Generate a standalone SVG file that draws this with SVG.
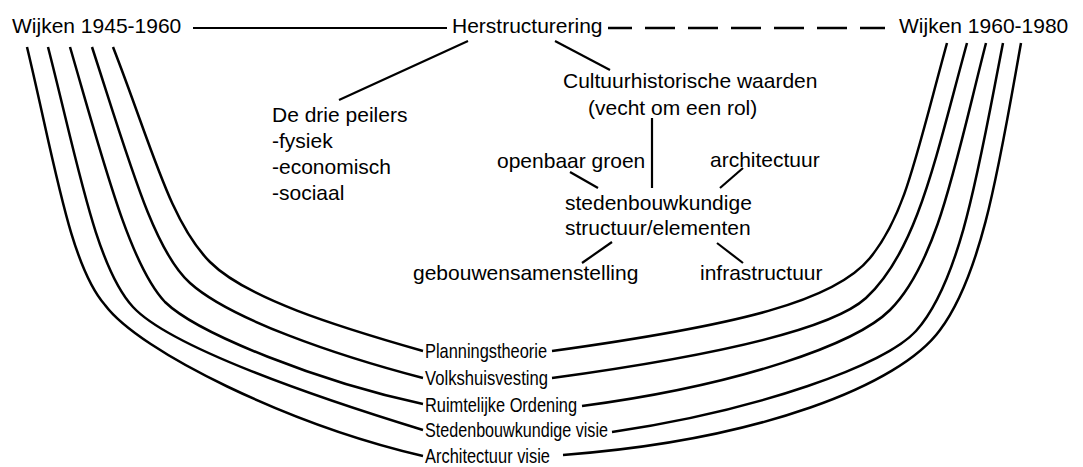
<svg xmlns="http://www.w3.org/2000/svg" width="1083" height="467" viewBox="0 0 1083 467">
<style>
.t{font-family:"Liberation Sans",Arial,sans-serif;font-size:21px;fill:#000}
.c{fill:none;stroke:#000;stroke-width:2.5;stroke-linecap:butt}
.l{fill:none;stroke:#000;stroke-width:2.2}
.d{fill:none;stroke:#000;stroke-width:2.6;stroke-dasharray:30 13;stroke-dashoffset:6}
</style>
<rect width="1083" height="467" fill="#fff"/>
<g id="connectors">
<path class="l" d="M193,28 H447" stroke-width="2.6"/>
<path class="d" d="M608,28 H885"/>
<path class="l" d="M468,41 L339,100"/>
<path class="l" d="M555,41 L610,70"/>
<path class="l" d="M652,118 V188"/>
<path class="l" d="M570,172 L598,188"/>
<path class="l" d="M743,168 L720,188"/>
<path class="l" d="M612,242 L582,263"/>
<path class="l" d="M717,243 L743,263"/>
<path class="c" d="M113,47 C152,147 170,222 210,262 C246,298 335,326 423,351"/>
<path class="c" d="M92,47 C130,164 154,251 190,283 C230,319 335,355 423,378"/>
<path class="c" d="M70,47 C104,164 130,265 165,302 C198,334 320,382 423,404"/>
<path class="c" d="M48,47 C78,164 96,267 133,307 C170,347 315,397 423,430"/>
<path class="c" d="M27,47 C55,164 70,265 105,305 C140,352 290,425 423,456"/>
<path class="c" d="M947,43 C915,160 905,215 870,258 C835,301 740,325 552,351"/>
<path class="c" d="M967,43 C935,160 917,251 866,298 C832,329 720,355 552,378"/>
<path class="c" d="M986,43 C956,160 938,262 890,310 C856,344 740,385 582,406"/>
<path class="c" d="M1003,43 C980,160 962,280 916,331 C885,365 760,410 612,432"/>
<path class="c" d="M1021,43 C1000,160 983,273 940,330 C900,385 760,440 563,455"/>
</g>
<g id="wijken1945"><text class="t" x="12" y="33">Wijken 1945-1960</text></g>
<g id="herstructurering"><text class="t" x="452" y="33">Herstructurering</text></g>
<g id="wijken1960"><text class="t" x="899" y="33">Wijken 1960-1980</text></g>
<g id="peilers">
<text class="t" x="272" y="122">De drie peilers</text>
<text class="t" x="272" y="148">-fysiek</text>
<text class="t" x="272" y="174">-economisch</text>
<text class="t" x="272" y="200">-sociaal</text>
</g>
<g id="cultuur">
<text class="t" x="563" y="88">Cultuurhistorische waarden</text>
<text class="t" x="588" y="115">(vecht om een rol)</text>
</g>
<g id="groen"><text class="t" x="497" y="168">openbaar groen</text></g>
<g id="architectuur"><text class="t" x="710" y="167">architectuur</text></g>
<g id="structuur">
<text class="t" x="565" y="210">stedenbouwkundige</text>
<text class="t" x="565" y="235">structuur/elementen</text>
</g>
<g id="gebouwen"><text class="t" x="413" y="280">gebouwensamenstelling</text></g>
<g id="infra"><text class="t" x="700" y="280">infrastructuur</text></g>
<g id="planning"><text class="t" x="425" y="358" textLength="122" lengthAdjust="spacingAndGlyphs">Planningstheorie</text></g>
<g id="volkshuisvesting"><text class="t" x="425" y="385" textLength="123" lengthAdjust="spacingAndGlyphs">Volkshuisvesting</text></g>
<g id="ruimtelijke"><text class="t" x="425" y="412" textLength="152" lengthAdjust="spacingAndGlyphs">Ruimtelijke Ordening</text></g>
<g id="stedenbouw"><text class="t" x="425" y="437" textLength="183" lengthAdjust="spacingAndGlyphs">Stedenbouwkundige visie</text></g>
<g id="archvisie"><text class="t" x="425" y="463" textLength="125" lengthAdjust="spacingAndGlyphs">Architectuur visie</text></g>
</svg>
